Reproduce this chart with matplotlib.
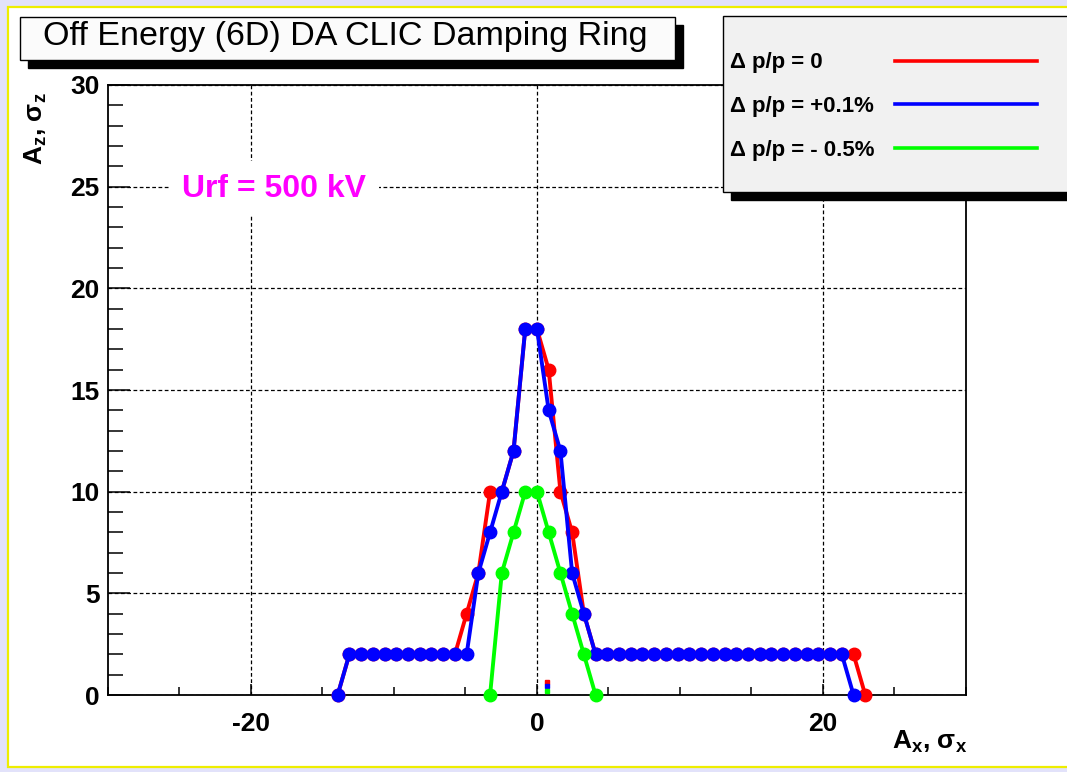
import matplotlib
matplotlib.use("Agg")
import matplotlib.pyplot as plt
from matplotlib.patches import Rectangle
from matplotlib.lines import Line2D
from matplotlib.ticker import MultipleLocator

plt.rcParams['font.family'] = ['Liberation Sans', 'DejaVu Sans']
plt.rcParams['font.weight'] = 'bold'
plt.rcParams['axes.unicode_minus'] = False
plt.rcParams['mathtext.fontset'] = 'custom'
plt.rcParams['mathtext.rm'] = 'Liberation Sans:bold'
plt.rcParams['mathtext.default'] = 'rm'

# scan points in A_x (sigma)
scan_x = [-13.94, -13.12, -12.30, -11.48, -10.66, -9.84, -9.02, -8.20, -7.38, -6.56,
          -5.74, -4.92, -4.10, -3.28, -2.46, -1.64, -0.82, 0.00, 0.82, 1.64,
          2.46, 3.28, 4.10, 4.92, 5.74, 6.56, 7.38, 8.20, 9.02, 9.84,
          10.66, 11.48, 12.30, 13.12, 13.94, 14.76, 15.58, 16.40, 17.22, 18.04,
          18.86, 19.68, 20.50, 21.32, 22.14, 22.96]

# dp/p = 0
red_x = scan_x
red_y = [0, 2, 2, 2, 2, 2, 2, 2, 2, 2,
         2, 4, 6, 10, 10, 12, 18, 18, 16, 10,
         8, 4, 2, 2, 2, 2, 2, 2, 2, 2,
         2, 2, 2, 2, 2, 2, 2, 2, 2, 2,
         2, 2, 2, 2, 2, 0]

# dp/p = +0.1%
blue_x = scan_x[:45]
blue_y = [0, 2, 2, 2, 2, 2, 2, 2, 2, 2,
          2, 2, 6, 8, 10, 12, 18, 18, 14, 12,
          6, 4, 2, 2, 2, 2, 2, 2, 2, 2,
          2, 2, 2, 2, 2, 2, 2, 2, 2, 2,
          2, 2, 2, 2, 0]

# dp/p = -0.5%
green_x = scan_x[13:23]
green_y = [0, 6, 8, 10, 10, 8, 6, 4, 2, 0]

labels = ['\u0394 p/p = 0', '\u0394 p/p = +0.1%', '\u0394 p/p = - 0.5%']
colors = ['#ff0000', '#0000ff', '#00ff00']

# small stray marks near the origin
stray_x = [0.72, 0.72, 0.72]
stray_y = [0.66, 0.42, 0.22]

fig = plt.figure(figsize=(10.67, 7.72), dpi=100, facecolor='#e2e2fa')
fig.add_artist(Rectangle((0.0075, 0.0065), 1.0, 0.9845, transform=fig.transFigure,
                         fc='white', ec='#eeee00', lw=1.6, zorder=0))

ax = fig.add_axes([0.1012, 0.0997, 0.8041, 0.7902])
ax.set_xlim(-30, 30)
ax.set_ylim(0, 30)
ax.xaxis.set_major_locator(MultipleLocator(20))
ax.xaxis.set_minor_locator(MultipleLocator(5))
ax.yaxis.set_major_locator(MultipleLocator(5))
ax.yaxis.set_minor_locator(MultipleLocator(1))
ax.grid(True, which='major', color='black', lw=0.9, ls=(0, (3, 2)))
ax.tick_params(axis='both', which='both', direction='in', top=False, right=False,
               labelsize=19, width=1.1)
ax.tick_params(axis='x', which='major', length=8, pad=12)
ax.tick_params(axis='x', which='minor', length=6)
ax.tick_params(axis='y', which='major', length=16, pad=6)
ax.tick_params(axis='y', which='minor', length=11)
for sp in ax.spines.values():
    sp.set_linewidth(1.3)

series = [(red_x, red_y), (blue_x, blue_y), (green_x, green_y)]
for (xs, ys), c in zip(series, colors):
    ax.plot(xs, ys, color=c, lw=2.8, marker='o', ms=9, mec=c, clip_on=False, zorder=4)

for sx, sy, c in zip(stray_x, stray_y, colors):
    ax.plot([sx], [sy], marker='s', ms=3.4, color=c, mec=c, lw=0, zorder=4)

ax.text(-24.8, 24.9, 'Urf = 500 kV', color='#ff00ff', fontsize=23, ha='left', va='center',
        bbox=dict(fc='white', ec='none', pad=9), zorder=3)

fig.text(0.907, 0.039, 'A$_x$, \u03c3$_x$', fontsize=19, ha='right', va='center')
fig.text(0.034, 0.881, 'A$_z$, \u03c3$_z$', fontsize=19, rotation=90, ha='center', va='top')

# title pave with shadow
fig.add_artist(Rectangle((0.0262, 0.9119), 0.6139, 0.0557, transform=fig.transFigure,
                         fc='black', ec='black', lw=1, zorder=5))
fig.add_artist(Rectangle((0.0187, 0.9223), 0.6139, 0.0557, transform=fig.transFigure,
                         fc='#fbfbfb', ec='black', lw=1, zorder=6))
fig.text(0.3233, 0.9525, 'Off Energy (6D) DA CLIC Damping Ring', fontsize=24.5,
         fontweight='normal', ha='center', va='center', zorder=7)

# legend pave with shadow
fig.add_artist(Rectangle((0.6851, 0.7409), 0.35, 0.228, transform=fig.transFigure,
                         fc='black', ec='black', lw=1, zorder=5))
fig.add_artist(Rectangle((0.6776, 0.7513), 0.35, 0.228, transform=fig.transFigure,
                         fc='#f1f1f1', ec='black', lw=1, zorder=6))
leg_y = [0.9214, 0.8649, 0.8079]
for lab, c, ly in zip(labels, colors, leg_y):
    fig.text(0.6842, ly - 0.003, lab, fontsize=16, ha='left', va='center', zorder=7)
    fig.add_artist(Line2D([0.8388, 0.9719], [ly, ly], transform=fig.transFigure,
                          color=c, lw=2.6, zorder=7))

fig.savefig('out.png', dpi=100, facecolor=fig.get_facecolor())
